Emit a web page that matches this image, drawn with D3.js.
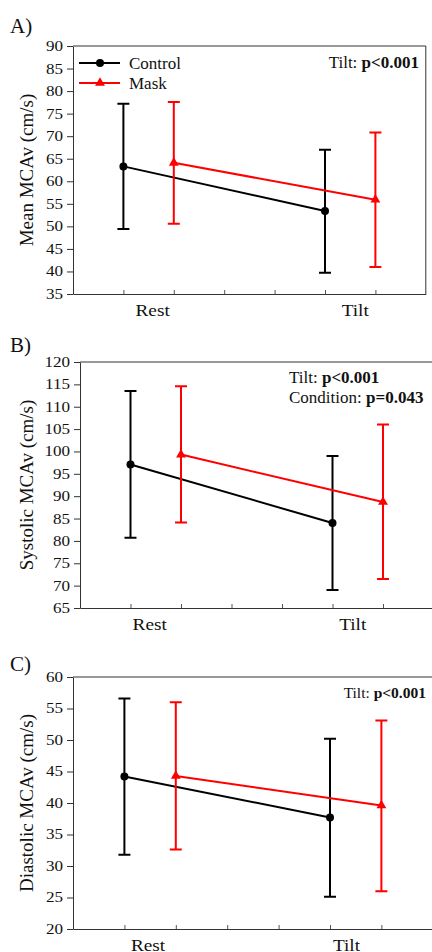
<!DOCTYPE html>
<html>
<head>
	<meta charset="utf-8">
	<script src="https://d3js.org/d3.v7.min.js"></script>
	<style>
		body { margin: 0; background: #fff; }
		text { font-family: "Liberation Serif", "Times New Roman", serif; fill: #111; }
	</style>
</head>
<body>
	<div id="my_dataviz"></div>
	<script>

	// data
	const conditions = ["Rest", "Tilt"]
	const seriesNames = ["Control", "Mask"]

	// A) Mean MCAv
	const meanControl = [63.3, 53.4]
	const meanControlLow = [49.4, 39.7]
	const meanControlHigh = [77.2, 67.0]
	const meanMask = [64.1, 55.9]
	const meanMaskLow = [50.6, 41.0]
	const meanMaskHigh = [77.6, 70.8]

	// B) Systolic MCAv
	const sysControl = [97.1, 84.0]
	const sysControlLow = [80.7, 69.0]
	const sysControlHigh = [113.5, 99.0]
	const sysMask = [99.3, 88.7]
	const sysMaskLow = [84.1, 71.5]
	const sysMaskHigh = [114.6, 106.0]

	// C) Diastolic MCAv
	const diaControl = [44.2, 37.7]
	const diaControlLow = [31.8, 25.1]
	const diaControlHigh = [56.6, 50.2]
	const diaMask = [44.3, 39.6]
	const diaMaskLow = [32.6, 26.0]
	const diaMaskHigh = [56.0, 53.1]

	const yTicksA = d3.range(35, 91, 5)
	const yTicksB = d3.range(65, 121, 5)
	const yTicksC = d3.range(20, 61, 5)

	const width = 432
	const height = 952

	const svg = d3.select("#my_dataviz")
	  .append("svg")
	    .attr("width", width)
	    .attr("height", height)

	const colors = { Control: "#000000", Mask: "#ff0000" }

	// layout of each panel (pixels)
	const panels = [
		{ letter: "A)", letterY: 33, x0: 73, unit: 50.4, top: 46, bottom: 294, domain: [35, 90], ticks: yTicksA,
		  label: "Mean MCAv (cm/s)", labelPos: [1.58, 5.6], legend: true,
		  series: [
			{ name: "Control", mean: meanControl, low: meanControlLow, high: meanControlHigh },
			{ name: "Mask", mean: meanMask, low: meanMaskLow, high: meanMaskHigh } ],
		  notes: [{ x: 419, y: 68, anchor: "end", size: 17, plain: "Tilt: ", bold: "p<0.001" }] },
		{ letter: "B)", letterY: 352, x0: 80, unit: 50.5, top: 362, bottom: 608, domain: [65, 120], ticks: yTicksB,
		  label: "Systolic MCAv (cm/s)", labelPos: [1.38, 5.4], legend: false,
		  series: [
			{ name: "Control", mean: sysControl, low: sysControlLow, high: sysControlHigh },
			{ name: "Mask", mean: sysMask, low: sysMaskLow, high: sysMaskHigh } ],
		  notes: [{ x: 289, y: 383, anchor: "start", size: 17, plain: "Tilt: ", bold: "p<0.001" },
		          { x: 289, y: 403, anchor: "start", size: 17, plain: "Condition: ", bold: "p=0.043" }] },
		{ letter: "C)", letterY: 671, x0: 73, unit: 51.4, top: 677, bottom: 929, domain: [20, 60], ticks: yTicksC,
		  label: "Diastolic MCAv (cm/s)", labelPos: [1.46, 5.32], legend: false,
		  series: [
			{ name: "Control", mean: diaControl, low: diaControlLow, high: diaControlHigh },
			{ name: "Mask", mean: diaMask, low: diaMaskLow, high: diaMaskHigh } ],
		  notes: [{ x: 426, y: 698, anchor: "end", size: 15.5, plain: "Tilt: ", bold: "p<0.001" }] }
	]

	// x slot of each series at each condition
	const slot = { Control: [1, 5], Mask: [2, 6] }

	function marker(g, name, cx, cy) {
		if (name === "Control") {
			g.append("circle").attr("cx", cx).attr("cy", cy).attr("r", 4).attr("fill", colors.Control)
		} else {
			g.append("path")
			  .attr("d", d3.symbol().type(d3.symbolTriangle).size(42))
			  .attr("transform", `translate(${cx},${cy})`)
			  .attr("fill", colors.Mask)
		}
	}

	panels.forEach(p => {
		const g = svg.append("g")
		const x = d3.scaleLinear().domain([0, 7]).range([p.x0, p.x0 + 7 * p.unit])
		const y = d3.scaleLinear().domain(p.domain).range([p.bottom, p.top])

		// frame: top and right
		g.append("path")
		  .attr("d", `M${x(0)},${y(p.domain[1])}H${x(7)}V${y(p.domain[0])}`)
		  .attr("fill", "none").attr("stroke", "#333").attr("stroke-width", 1)

		// y axis
		const ya = g.append("g")
		  .attr("transform", `translate(${p.x0},0)`)
		  .call(d3.axisLeft(y).tickValues(p.ticks).tickSize(6).tickPadding(4).tickSizeOuter(0))
		ya.select(".domain").attr("stroke", "#333")
		ya.selectAll(".tick line").attr("stroke", "#333")
		ya.selectAll(".tick text")
		  .attr("font-size", 14)
		  .attr("font-family", "'Liberation Serif', 'Times New Roman', serif")
		  .attr("fill", "#111")
		  .attr("x", -10 / 1.22)
		  .attr("transform", "scale(1.22,1)")

		// x axis with inner ticks
		const xa = g.append("g")
		  .attr("transform", `translate(0,${p.bottom})`)
		  .call(d3.axisBottom(x).tickValues([1, 2, 3, 4, 5, 6]).tickSizeInner(-4).tickSizeOuter(0).tickFormat(""))
		xa.select(".domain").attr("stroke", "#333")
		xa.selectAll(".tick line").attr("stroke", "#555")

		// category labels
		conditions.forEach((c, i) => {
			g.append("text")
			  .attr("transform", `translate(${x(p.labelPos[i])},${p.bottom + 22}) scale(1.1,1)`)
			  .attr("text-anchor", "middle")
			  .attr("font-size", 17.5)
			  .text(c)
		})

		// y label
		g.append("text")
		  .attr("transform", `translate(26,${(p.top + p.bottom) / 2}) rotate(-90)`)
		  .attr("text-anchor", "middle")
		  .attr("dy", "0.35em")
		  .attr("font-size", 19)
		  .text(p.label)

		// panel letter
		g.append("text")
		  .attr("x", 10).attr("y", p.letterY)
		  .attr("font-size", 21)
		  .text(p.letter)

		// series
		p.series.forEach(s => {
			const col = colors[s.name]
			const pts = s.mean.map((v, i) => [x(slot[s.name][i]), y(v)])
			g.append("path")
			  .attr("d", d3.line()(pts))
			  .attr("fill", "none").attr("stroke", col).attr("stroke-width", 2)

			s.mean.forEach((v, i) => {
				const cx = x(slot[s.name][i])
				const lo = y(s.low[i]), hi = y(s.high[i])
				g.append("path")
				  .attr("d", `M${cx},${lo}V${hi}M${cx - 6},${lo}H${cx + 6}M${cx - 6},${hi}H${cx + 6}`)
				  .attr("fill", "none").attr("stroke", col).attr("stroke-width", 2)
				marker(g, s.name, cx, y(v))
			})
		})

		// legend
		if (p.legend) {
			seriesNames.forEach((n, i) => {
				const ly = 63 + i * 20
				g.append("line")
				  .attr("x1", 79).attr("x2", 120).attr("y1", ly).attr("y2", ly)
				  .attr("stroke", colors[n]).attr("stroke-width", 2)
				marker(g, n, 100, ly)
				g.append("text")
				  .attr("x", 129).attr("y", ly).attr("dy", "0.35em")
				  .attr("font-size", 17)
				  .text(n)
			})
		}

		// statistics notes
		p.notes.forEach(nt => {
			const t = g.append("text")
			  .attr("x", nt.x).attr("y", nt.y)
			  .attr("text-anchor", nt.anchor)
			  .attr("font-size", nt.size)
			t.append("tspan").text(nt.plain)
			t.append("tspan").attr("font-weight", "bold").text(nt.bold)
		})
	})

	</script>
</body>
</html>
